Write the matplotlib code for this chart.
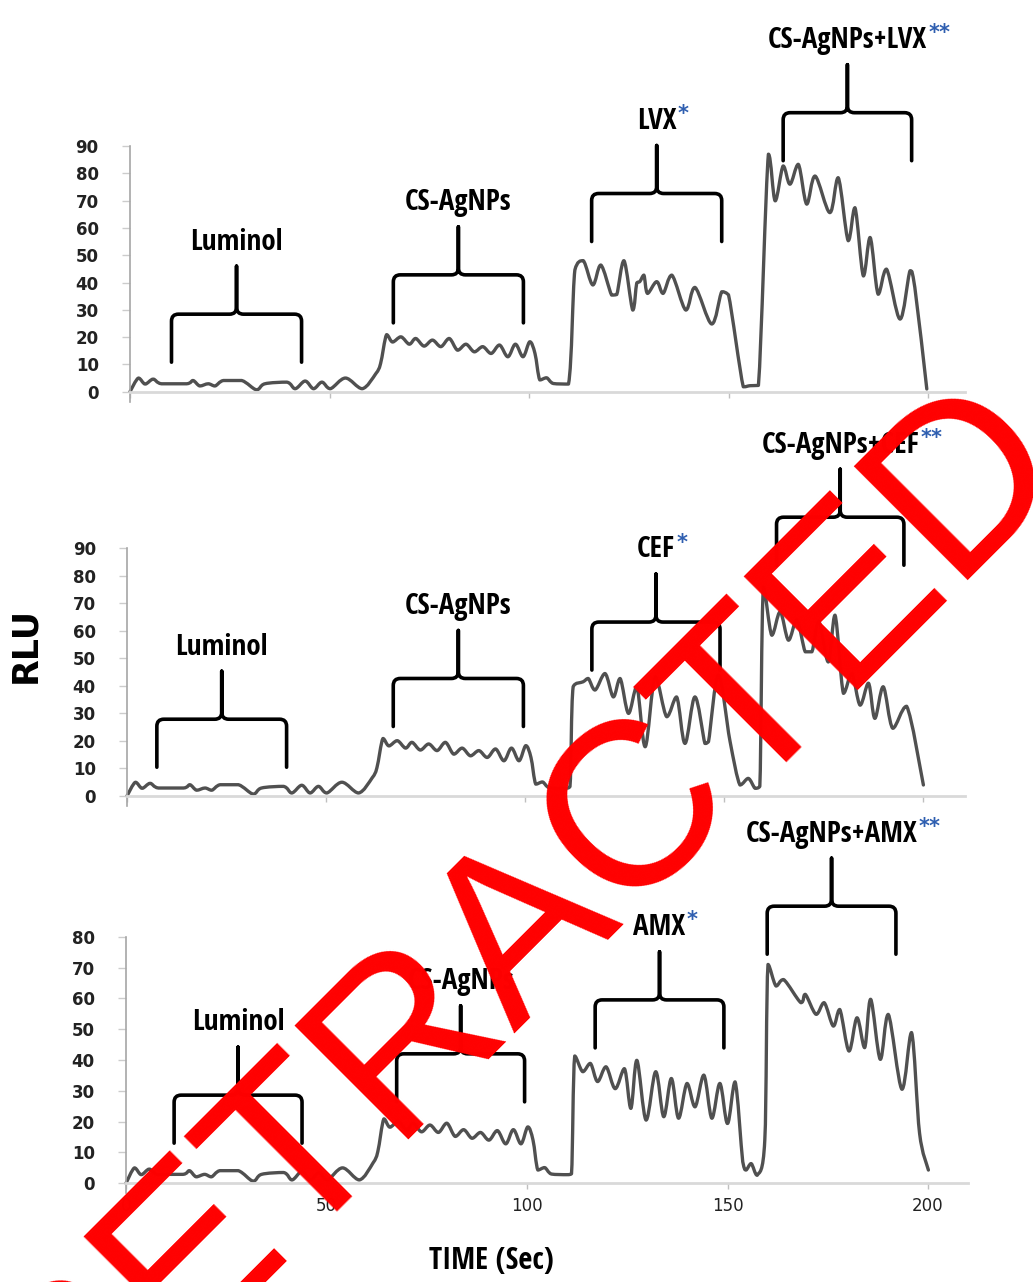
import matplotlib.pyplot as plt
from matplotlib import font_manager as fm
from matplotlib.path import Path
from matplotlib.patches import PathPatch

# luminol + CS-AgNPs part of the trace, the same in all three runs
base_t = [0, 2.1, 3.8, 5.8, 7.9, 14.2, 15.8, 17.5, 19.6, 21.3, 23.4, 28.0, 31.7, 33.8,
          39.3, 41.4, 43.9, 46.0, 48.1, 50.2, 54.0, 58.2, 61.6, 62.8, 64.3, 65.8, 67.9,
          70.0, 71.6, 73.7, 75.8, 77.9, 80.0, 82.1, 84.2, 86.3, 88.4, 90.5, 92.6, 94.7,
          96.6, 98.5, 100.2, 101.5, 102.7, 104.4, 106.1, 109.9]
base_rlu = [0, 5.0, 2.8, 4.6, 2.9, 2.9, 4.1, 2.1, 2.9, 2.1, 4.1, 4.1, 0.7, 2.9,
            3.5, 1.1, 3.9, 1.1, 3.5, 1.1, 5.0, 1.1, 6.6, 10.3, 20.9, 18.2, 20.1,
            17.4, 19.5, 16.7, 18.9, 16.5, 19.5, 15.2, 17.4, 14.6, 16.5, 14.0, 17.1, 12.8,
            17.4, 12.8, 18.3, 14.0, 4.3, 5.1, 3.0, 2.8]

# LVX run
lvx_t = [111.5, 113.6, 116.0, 118.0, 120.7, 122.0, 123.8, 126.0, 127.0, 127.8, 128.8,
         129.7, 132.0, 133.6, 135.8, 139.3, 141.6, 145.8, 148.3, 150.0, 153.7, 155.4,
         157.5,
         160.0, 161.7, 163.7, 165.4, 167.5, 169.6, 171.7, 175.4, 177.5, 180.0, 181.7,
         183.8, 185.5, 187.5, 189.6, 193.0, 195.5, 196.7, 199.7]
lvx_rlu = [44.6, 48.0, 39.1, 46.4, 35.4, 35.6, 48.0, 29.9, 39.8, 40.4, 42.7,
           36.0, 40.3, 36.0, 42.7, 29.9, 38.2, 24.8, 36.6, 35.5, 1.8, 2.2,
           2.3,
           87.0, 69.9, 82.7, 76.0, 83.3, 68.7, 79.0, 65.6, 78.4, 55.3, 67.4,
           42.4, 56.5, 35.7, 44.9, 26.6, 44.3, 38.2, 1.0]

# CEF run
cef_t = [111.3, 112.1, 114.6, 115.9, 117.6, 120.1, 122.2, 123.9, 126.0, 128.1, 130.2,
         132.7, 135.6, 138.1, 140.2, 142.7, 145.2, 146.1, 148.6, 151.5, 154.0, 156.1,
         157.8, 159.0,
         159.9, 162.0, 164.1, 166.2, 168.3, 170.4, 172.1, 173.8, 176.2, 177.9, 180.0,
         182.1, 184.2, 186.3, 187.9, 190.0, 192.4, 195.9, 200.1]
cef_rlu = [3.4, 39.7, 41.5, 42.7, 38.5, 44.5, 36.0, 42.7, 30.0, 39.7, 17.9,
           43.3, 28.8, 36.0, 19.1, 36.0, 19.1, 19.7, 44.0, 20.0, 4.0, 6.4,
           2.8, 3.5,
           76.0, 58.4, 66.9, 56.6, 64.0, 52.4, 52.4, 63.5, 48.7, 65.7, 37.3,
           44.5, 33.0, 41.0, 28.2, 39.7, 24.6, 32.6, 4.0]

# AMX run
amx_t = [111.1, 111.9, 113.9, 115.8, 117.6, 119.7, 122.0, 124.3, 125.9, 127.4, 129.7,
         132.1, 134.1, 136.0, 137.8, 139.9, 141.9, 144.1, 146.1, 148.1, 150.0, 151.9,
         153.8, 154.6, 155.9, 157.4, 159.3,
         160.1, 162.1, 164.0, 168.3, 169.4, 172.1, 174.1, 176.4, 178.0, 180.3, 182.3,
         184.2, 185.7, 188.1, 190.1, 193.5, 195.9, 197.9, 200.1]
amx_rlu = [3.1, 41.3, 36.2, 38.9, 33.0, 37.8, 30.7, 37.2, 24.3, 39.9, 20.5,
           36.2, 21.6, 34.0, 21.1, 32.4, 24.8, 35.1, 21.1, 32.4, 19.4, 32.9,
           7.0, 4.3, 6.4, 2.6, 14.0,
           71.0, 64.0, 66.1, 58.6, 61.3, 54.8, 58.6, 51.0, 56.4, 42.9, 53.7,
           44.0, 59.7, 40.2, 54.8, 30.5, 48.9, 16.2, 4.3]

# brackets: (start, end, bar level) for each phase
top_spans = [(10.4, 43.0, 28.4), (66.0, 98.6, 42.8), (115.7, 148.3, 72.6), (163.7, 195.9, 102.2)]
mid_spans = [(7.5, 40.1, 27.9), (66.9, 99.6, 42.7), (116.8, 149.0, 63.2), (163.2, 195.2, 101.3)]
bot_spans = [(12.0, 43.9, 28.6), (67.5, 99.4, 42.0), (117.0, 149.1, 59.5), (159.9, 192.0, 89.9)]

top_names = ['Luminol', 'CS-AgNPs', 'LVX', 'CS-AgNPs+LVX']
mid_names = ['Luminol', 'CS-AgNPs', 'CEF', 'CS-AgNPs+CEF']
bot_names = ['Luminol', 'CS-AgNPs', 'AMX', 'CS-AgNPs+AMX']
stars = ['', '', '*', '**']

x_ticks = [0, 50, 100, 150, 200]

W, H = 1033, 1282
line_col = '#505050'


def pick_family(cands):
    for fam in cands:
        try:
            fm.findfont(fm.FontProperties(family=fam, weight='bold'), fallback_to_default=False)
            return fam
        except ValueError:
            pass
    return None


# a condensed face if one is installed, else Roboto at a smaller size
cond = pick_family(['Open Sans Condensed', 'Noto Sans Condensed', 'Roboto Condensed',
                    'Liberation Sans Narrow', 'DejaVu Sans Condensed'])
if cond:
    narrow, lab_size, title_size = [cond, 'DejaVu Sans'], 21, 22
else:
    narrow, lab_size, title_size = ['Roboto', 'DejaVu Sans'], 17.5, 21

fig = plt.figure(figsize=(W / 100, H / 100), dpi=100)


def make_panel(left, x200, right, zero, top, ymax, below=10):
    ppu = (zero - top) / ymax
    ppx = (x200 - left) / 200
    ax = fig.add_axes([left / W, 1 - (zero + below) / H,
                       (right - left) / W, (zero + below - top) / H])
    ax.set_ylim(-below / ppu, ymax)
    ax.set_xlim(0, (right - left) / ppx)
    for s in ['top', 'right']:
        ax.spines[s].set_visible(False)
    ax.spines['bottom'].set_position(('data', 0))
    ax.spines['bottom'].set_color('#d9d9d9')
    ax.spines['bottom'].set_linewidth(2)
    ax.spines['left'].set_color('#a6a6a6')
    ax.spines['left'].set_linewidth(1.2)
    ax.set_yticks(range(0, ymax + 1, 10))
    ax.set_xticks(x_ticks)
    ax.tick_params(axis='y', length=6, width=1, color='#cccccc', pad=16.5,
                   labelsize=12, labelcolor='#222222')
    ax.tick_params(axis='x', length=4, width=1, color='#bfbfbf', pad=6,
                   labelsize=12, labelcolor='#222222', labelbottom=False)
    for lab in ax.get_yticklabels() + ax.get_xticklabels():
        lab.set_fontweight('bold')
    return ax


def clamp(v, a, b):
    return max(min(a, b), min(v, max(a, b)))


def smooth_trace(ax, t, y):
    # smoothed line through the read points, without overshoot
    pts = list(zip(t, y))
    n = len(pts)
    verts, codes = [pts[0]], [Path.MOVETO]
    for i in range(n - 1):
        p0 = pts[max(i - 1, 0)]
        p1, p2 = pts[i], pts[i + 1]
        p3 = pts[min(i + 2, n - 1)]
        c1 = (clamp(p1[0] + (p2[0] - p0[0]) / 6, p1[0], p2[0]),
              clamp(p1[1] + (p2[1] - p0[1]) / 6, p1[1], p2[1]))
        c2 = (clamp(p2[0] - (p3[0] - p1[0]) / 6, p1[0], p2[0]),
              clamp(p2[1] - (p3[1] - p1[1]) / 6, p1[1], p2[1]))
        verts += [c1, c2, p2]
        codes += [Path.CURVE4] * 3
    ax.add_patch(PathPatch(Path(verts, codes), fill=False, ec=line_col, lw=2.4,
                           capstyle='round', joinstyle='round', clip_on=False))


def brace(ax, x0, x1, yb, name, star, arm_px=48, r_px=7):
    y0, y1 = ax.get_ylim()
    xa, xb = ax.get_xlim()
    uy = (y1 - y0) / ax.bbox.height
    ux = (xb - xa) / ax.bbox.width
    arm, ry, rx = arm_px * uy, r_px * uy, r_px * ux
    xc = (x0 + x1) / 2
    verts = [(x0, yb - arm), (x0, yb - ry), (x0, yb), (x0 + rx, yb),
             (xc - rx, yb), (xc, yb), (xc, yb + ry), (xc, yb + arm),
             (xc, yb + ry), (xc, yb), (xc + rx, yb),
             (x1 - rx, yb), (x1, yb), (x1, yb - ry), (x1, yb - arm)]
    codes = [Path.MOVETO, Path.LINETO, Path.CURVE3, Path.CURVE3,
             Path.LINETO, Path.CURVE3, Path.CURVE3, Path.LINETO,
             Path.LINETO, Path.CURVE3, Path.CURVE3,
             Path.LINETO, Path.CURVE3, Path.CURVE3, Path.LINETO]
    ax.add_patch(PathPatch(Path(verts, codes), fill=False, lw=2.6, ec='black',
                           capstyle='round', joinstyle='round', clip_on=False))
    txt = ax.annotate(name, xy=(xc, yb + arm), xytext=(0, 12), textcoords='offset points',
                      ha='center', va='baseline', fontsize=lab_size, fontweight='bold',
                      family=narrow, color='black', annotation_clip=False)
    if star:
        ax.annotate(star, xy=(1.0, 1.0), xycoords=txt, xytext=(1, 2),
                    textcoords='offset points', ha='left', va='top', fontsize=15,
                    fontweight='bold', color='#2f5fb0', annotation_clip=False)


panels = [
    (make_panel(130, 928, 965, 391.7, 146, 90), base_t + lvx_t, base_rlu + lvx_rlu, top_spans, top_names),
    (make_panel(127, 923, 965, 796, 548.3, 90), base_t + cef_t, base_rlu + cef_rlu, mid_spans, mid_names),
    (make_panel(126, 928, 968, 1183.3, 936.7, 80), base_t + amx_t, base_rlu + amx_rlu, bot_spans, bot_names),
]

for ax, t, rlu, spans, names in panels:
    smooth_trace(ax, t, rlu)
    for (x0, x1, yb), name, st in zip(spans, names, stars):
        brace(ax, x0, x1, yb, name, st)

panels[2][0].tick_params(axis='x', labelbottom=True)

fig.text(0.0242, 0.497, 'RLU', rotation=90, fontsize=25, fontweight='bold',
         ha='center', va='center')
fig.text(0.476, 0.0164, 'TIME (Sec)', fontsize=title_size, fontweight='bold', family=narrow,
         ha='center', va='center')

# retraction watermark
fig.text(0.547, 0.248, 'RETRACTED', rotation=45, rotation_mode='anchor',
         fontsize=168, family='Liberation Sans', color='#ff0000',
         ha='center', va='baseline', zorder=10)

fig.savefig('out.png', dpi=100)
